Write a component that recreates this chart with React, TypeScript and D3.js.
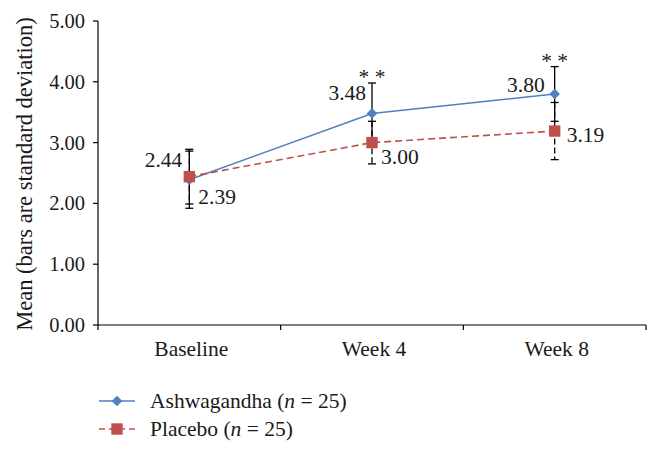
import React from "react";
import * as d3 from "d3";

const categories = ["Baseline", "Week 4", "Week 8"];
const ashwaMeans = [2.39, 3.48, 3.8];
const ashwaSD = [0.47, 0.5, 0.45];
const placeboMeans = [2.44, 3.0, 3.19];
const placeboSD = [0.45, 0.35, 0.47];
const yTicks = [0, 1, 2, 3, 4, 5];
const significance = ["", "* *", "* *"];
const seriesNames = ["Ashwagandha", "Placebo"];

const W = 658;
const H = 451;
const FONT = "Liberation Serif, DejaVu Serif, serif";
const BLUE = "#4F81BD";
const RED = "#C0504D";

export default function App() {
  const x = d3.scaleBand<string>().domain(categories).range([98, 646]);
  const y = d3.scaleLinear().domain([0, 5]).range([325, 21]);
  const cx = (c: string) => (x(c) as number) + x.bandwidth() / 2;
  const line = d3
    .line<number>()
    .x((_, i) => cx(categories[i]))
    .y((d) => y(d));

  const diamond = d3.symbol().type(d3.symbolSquare).size(56)() as string;
  const square = d3.symbol().type(d3.symbolSquare).size(130)() as string;

  const errBar = (m: number, sd: number, c: string, key: string, dashed: boolean) => {
    const xx = cx(c);
    return (
      <g key={key} stroke="#000" strokeWidth={1.3}>
        <line x1={xx} x2={xx} y1={y(m + sd)} y2={y(m - sd)} strokeDasharray={dashed ? "6,3" : undefined} />
        <line x1={xx - 4} x2={xx + 4} y1={y(m + sd)} y2={y(m + sd)} />
        <line x1={xx - 4} x2={xx + 4} y1={y(m - sd)} y2={y(m - sd)} />
      </g>
    );
  };

  const fs = 21.5;
  const tfs = 20.5;
  // label placement: [dx, dy, anchor]
  const ashwaLabelPos: [number, number, string][] = [
    [9, 24, "start"],
    [-6, -13, "end"],
    [-10, -2, "end"],
  ];
  const placeboLabelPos: [number, number, string][] = [
    [-7, -10, "end"],
    [9, 21, "start"],
    [12, 11, "start"],
  ];

  const txt = { fontFamily: FONT, fill: "#1a1a1a" } as const;

  return (
    <svg width={W} height={H} style={{ position: "absolute", left: 0, top: 0, background: "#fff" }}>
      <rect width={W} height={H} fill="#fff" />
      {/* y axis */}
      <line x1={98} x2={98} y1={y(5)} y2={y(0)} stroke="#000" strokeWidth={1.2} />
      {yTicks.map((t) => (
        <g key={t}>
          <line x1={93} x2={98} y1={y(t)} y2={y(t)} stroke="#000" strokeWidth={1.2} />
          <text x={85} y={y(t) + 7} textAnchor="end" style={{ ...txt, fontSize: tfs }}>
            {t.toFixed(2)}
          </text>
        </g>
      ))}
      {/* x axis */}
      <line x1={98} x2={646} y1={y(0)} y2={y(0)} stroke="#000" strokeWidth={1.2} />
      {[...categories.map((c) => x(c) as number), 646].map((p, i) => (
        <line key={i} x1={p} x2={p} y1={y(0)} y2={y(0) + 5} stroke="#000" strokeWidth={1.2} />
      ))}
      {categories.map((c) => (
        <text key={c} x={cx(c) + 2} y={356} textAnchor="middle" style={{ ...txt, fontSize: fs }}>
          {c}
        </text>
      ))}
      <text
        transform={`translate(32,${174}) rotate(-90)`}
        textAnchor="middle"
        style={{ ...txt, fontSize: 22.5 }}
      >
        Mean (bars are standard deviation)
      </text>

      {/* error bars */}
      {categories.map((c, i) => errBar(placeboMeans[i], placeboSD[i], c, "p" + i, true))}
      {categories.map((c, i) => errBar(ashwaMeans[i], ashwaSD[i], c, "a" + i, false))}

      {/* lines */}
      <path d={line(ashwaMeans) as string} fill="none" stroke={BLUE} strokeWidth={1.6} />
      <path d={line(placeboMeans) as string} fill="none" stroke={RED} strokeWidth={1.6} strokeDasharray="7,4" />

      {/* markers */}
      {categories.map((c, i) => (
        <path key={"am" + i} d={diamond} transform={`translate(${cx(c)},${y(ashwaMeans[i])}) rotate(45)`} fill={BLUE} />
      ))}
      {categories.map((c, i) => (
        <path key={"pm" + i} d={square} transform={`translate(${cx(c)},${y(placeboMeans[i])})`} fill={RED} />
      ))}

      {/* data labels */}
      {categories.map((c, i) => (
        <text
          key={"al" + i}
          x={cx(c) + ashwaLabelPos[i][0]}
          y={y(ashwaMeans[i]) + ashwaLabelPos[i][1]}
          textAnchor={ashwaLabelPos[i][2] as any}
          style={{ ...txt, fontSize: fs }}
        >
          {ashwaMeans[i].toFixed(2)}
        </text>
      ))}
      {categories.map((c, i) => (
        <text
          key={"pl" + i}
          x={cx(c) + placeboLabelPos[i][0]}
          y={y(placeboMeans[i]) + placeboLabelPos[i][1]}
          textAnchor={placeboLabelPos[i][2] as any}
          style={{ ...txt, fontSize: fs }}
        >
          {placeboMeans[i].toFixed(2)}
        </text>
      ))}

      {/* significance */}
      {categories.map((c, i) =>
        significance[i] ? (
          <text
            key={"s" + i}
            x={cx(c)}
            y={y(ashwaMeans[i] + ashwaSD[i]) + 1}
            textAnchor="middle"
            style={{ ...txt, fontSize: fs }}
          >
            {significance[i]}
          </text>
        ) : null
      )}

      {/* legend */}
      <g>
        <line x1={99} x2={135} y1={401} y2={401} stroke={BLUE} strokeWidth={1.6} />
        <path d={diamond} transform="translate(117,401) rotate(45)" fill={BLUE} />
        <text x={150} y={408} style={{ ...txt, fontSize: fs }}>
          {seriesNames[0]} (<tspan fontStyle="italic">n</tspan> = 25)
        </text>
        <line x1={99} x2={135} y1={429} y2={429} stroke={RED} strokeWidth={1.6} strokeDasharray="6,4" />
        <path d={square} transform="translate(117,429)" fill={RED} />
        <text x={150} y={436} style={{ ...txt, fontSize: fs }}>
          {seriesNames[1]} (<tspan fontStyle="italic">n</tspan> = 25)
        </text>
      </g>
    </svg>
  );
}
